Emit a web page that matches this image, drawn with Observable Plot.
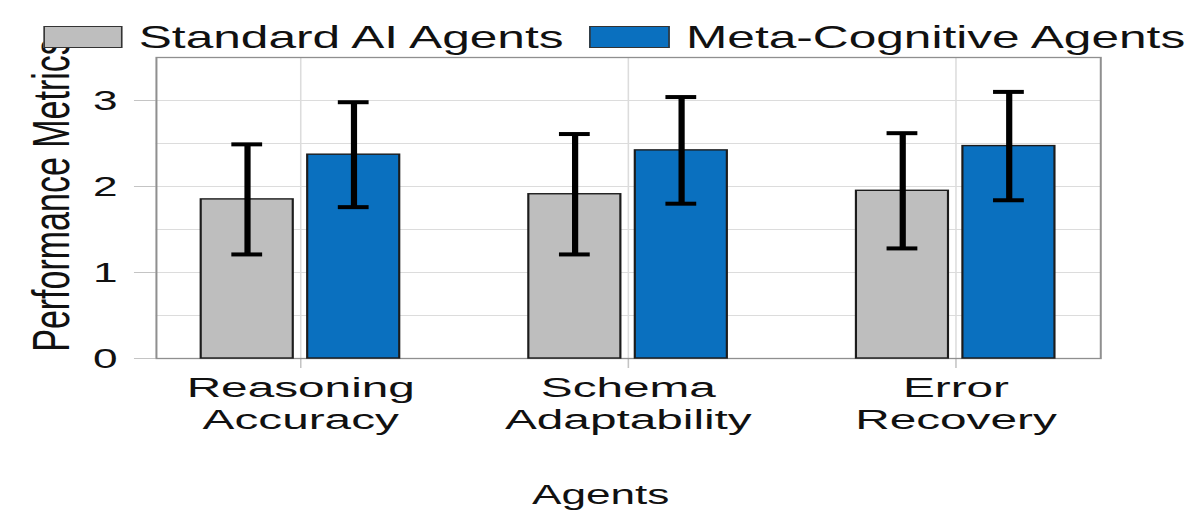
<!DOCTYPE html>
<html>
<head>
<meta charset="utf-8">
<script src="https://cdn.jsdelivr.net/npm/d3@7"></script>
<script src="https://cdn.jsdelivr.net/npm/@observablehq/plot@0.6"></script>
<style>
  html, body { margin: 0; padding: 0; background: #ffffff; }
  #wrap { width: 1200px; height: 512px; overflow: hidden; position: relative; font-family: "Liberation Sans", Arial, sans-serif; }
  #legend { height: 56px; width: 774px; transform: scaleX(1.5504); transform-origin: 0 0; display: flex; align-items: center; box-sizing: border-box; padding-top: 17px; padding-left: 27.5px; }
  .item { display: flex; align-items: center; }
  .sw { width: 51.5px; height: 22px; box-sizing: border-box; border: 1.6px solid #333; margin-right: 10.5px; }
  .lt { font-size: 32px; line-height: 1; color: #111; white-space: nowrap; }
</style>
</head>
<body>
<div id="wrap">
  <div id="legend"></div>
  <div id="chart"></div>
</div>
<script>
// ---- data ----
const categories = ["Reasoning Accuracy", "Schema Adaptability", "Error Recovery"];
const tickLabels = ["Reasoning\nAccuracy", "Schema\nAdaptability", "Error\nRecovery"];
const seriesNames = ["Standard AI Agents", "Meta-Cognitive Agents"];
const seriesColors = ["#bebebe", "#0a70bf"];
const standardMean = [1.85, 1.91, 1.95];
const standardErr = [0.64, 0.70, 0.67];
const metaMean = [2.37, 2.42, 2.47];
const metaErr = [0.61, 0.62, 0.63];
const yTicks = [0, 1, 2, 3];
const yGridTicks = [0.5, 1, 1.5, 2, 2.5, 3];
const xLabel = "Agents";
const yLabel = "Performance Metrics";

// ---- layout constants (in category-step units) ----
const barWidth = 0.281, halfGap = 0.022, capHalf = 0.047;
const seriesOffset = [-(halfGap + barWidth / 2), halfGap + barWidth / 2];
const catIndex = categories.map((_, i) => i);

const means = [standardMean, metaMean];
const errs = [standardErr, metaErr];
const rows = [];
categories.forEach((c, i) => {
  seriesNames.forEach((s, k) => {
    const cx = i + seriesOffset[k];
    rows.push({category: c, series: s, cx, x1: cx - barWidth / 2, x2: cx + barWidth / 2,
      mean: means[k][i], lo: means[k][i] - errs[k][i], hi: means[k][i] + errs[k][i]});
  });
});

// ---- legend ----
const legend = document.getElementById("legend");
seriesNames.forEach((s, k) => {
  const item = document.createElement("div");
  item.className = "item";
  if (k > 0) item.style.marginLeft = "17px";
  const sw = document.createElement("div");
  sw.className = "sw";
  sw.style.background = seriesColors[k];
  const t = document.createElement("span");
  t.className = "lt";
  t.textContent = s;
  item.appendChild(sw); item.appendChild(t);
  legend.appendChild(item);
});

// ---- chart (drawn in a 774-wide space, shown stretched to 1200) ----
const W = 774, H = 456;
const plot = Plot.plot({
  width: W,
  height: H,
  marginLeft: 100.4,
  marginRight: 64.5,
  marginTop: 1,
  marginBottom: 154,
  style: {fontFamily: "\"Liberation Sans\", Arial, sans-serif", background: "transparent", color: "#111"},
  x: {type: "linear", domain: [-0.4405, 2.442], axis: null},
  y: {domain: [0, 3.5], axis: null},
  color: {domain: seriesNames, range: seriesColors},
  marks: [
    Plot.gridY(yGridTicks, {stroke: "#dcdcdc", strokeOpacity: 1, strokeWidth: 1.2}),
    Plot.gridX(catIndex, {stroke: "#dcdcdc", strokeOpacity: 1, strokeWidth: 1}),
    Plot.axisY({ticks: yTicks, tickFormat: d => String(d), tickSize: 14, tickPadding: 11, fontSize: 28.5, stroke: "#c4c4c4", fill: "#111", label: null}),
    Plot.axisX({ticks: catIndex, tickFormat: i => tickLabels[i], tickSize: 10, tickPadding: 5, fontSize: 28, stroke: "#c4c4c4", fill: "#111", label: null, lineHeight: 1.16}),
    Plot.frame({stroke: "#8f8f8f", strokeWidth: 1.3}),
    Plot.rectY(rows, {x1: "x1", x2: "x2", y1: 0, y2: "mean", fill: "series", stroke: "#1c1c1c", strokeWidth: 1.4}),
    Plot.ruleX(rows, {x: "cx", y1: "lo", y2: "hi", stroke: "#000", strokeWidth: 4}),
    Plot.ruleY(rows, {y: "hi", x1: d => d.cx - capHalf, x2: d => d.cx + capHalf, stroke: "#000", strokeWidth: 4}),
    Plot.ruleY(rows, {y: "lo", x1: d => d.cx - capHalf, x2: d => d.cx + capHalf, stroke: "#000", strokeWidth: 4}),
    Plot.text([yLabel], {frameAnchor: "left", textAnchor: "middle", rotate: -90, dx: -67, dy: -13, fontSize: 34, lineAnchor: "middle", fill: "#111"}),
    Plot.text([xLabel], {frameAnchor: "bottom", textAnchor: "middle", dx: -18, dy: 136, fontSize: 28.5, lineAnchor: "middle", fill: "#111"})
  ]
});
// widen the x tick labels slightly, as in the reference
plot.querySelectorAll('g[aria-label="x-axis tick label"] text').forEach(t => {
  const tr = t.getAttribute("transform") || "";
  t.setAttribute("transform", tr + " scale(1.1,1)");
});
plot.setAttribute("width", 1200);
plot.setAttribute("preserveAspectRatio", "none");
plot.style.width = "1200px";
plot.style.height = H + "px";
plot.style.maxWidth = "none";
plot.style.overflow = "visible";
document.getElementById("chart").appendChild(plot);
</script>
</body>
</html>
